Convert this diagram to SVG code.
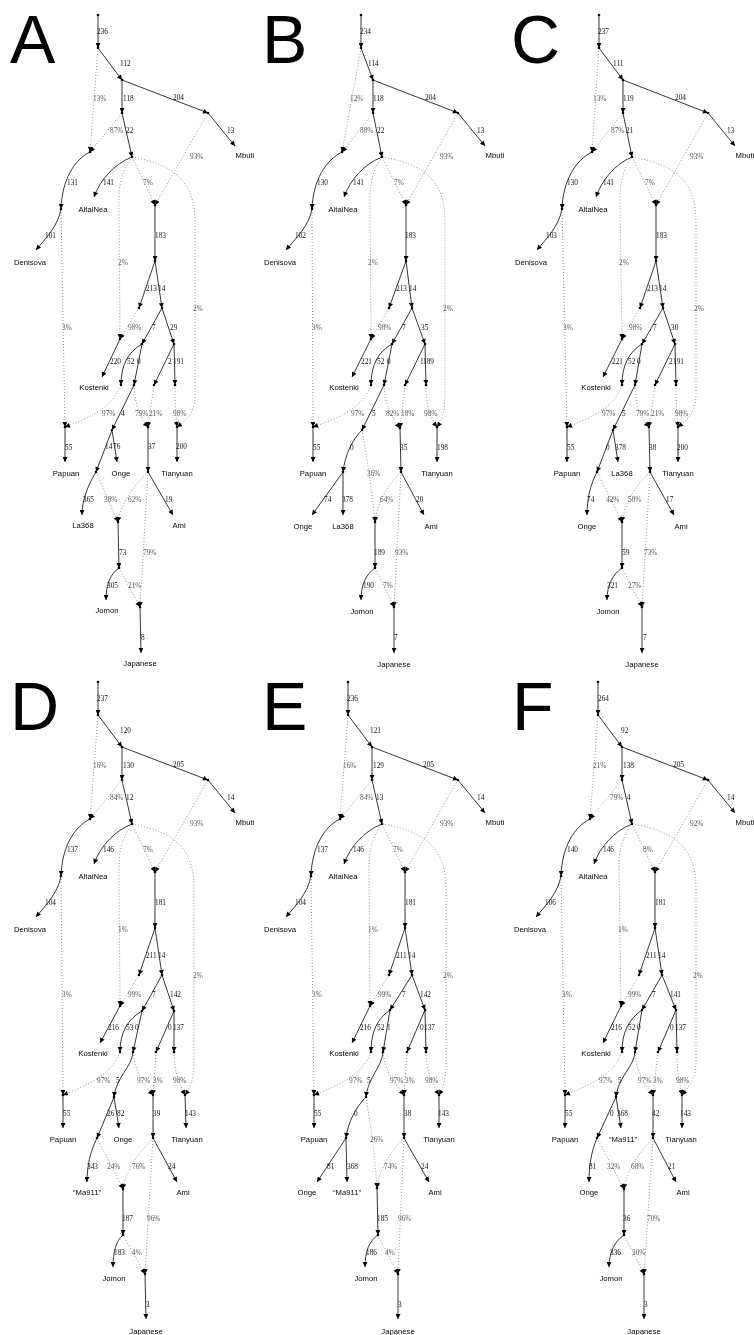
<svg xmlns="http://www.w3.org/2000/svg" width="754" height="1335" viewBox="0 0 754 1335">
<defs>
<marker id="ah" viewBox="0 0 10 10" refX="10" refY="5" markerWidth="6.5" markerHeight="5" orient="auto" markerUnits="userSpaceOnUse"><path d="M0,0L10,5L0,10z" fill="#000"/></marker>
</defs>
<style>
.s{fill:none;stroke:#000;stroke-width:0.8;marker-end:url(#ah)}
.d{fill:none;stroke:#777;stroke-width:0.8;stroke-dasharray:1 2;marker-end:url(#ah)}
.e{font-family:"Liberation Serif",serif;font-size:7.3px;fill:#111}
.p{font-family:"Liberation Serif",serif;font-size:7.3px;fill:#555}
.n{font-family:"Liberation Sans",Arial,sans-serif;font-size:7.7px;fill:#000;text-anchor:middle}
.pt{fill:#000}
.big{font-family:"Liberation Sans",Arial,sans-serif;font-size:68px;fill:#000}
</style>
<rect width="754" height="1335" fill="#fff"/>
<g id="figure" opacity="0.995">

<!-- PANEL A -->
<g id="panel-A">
<text class="big" x="10" y="63">A</text>
<g id="A-connectors">
<path class="s" d="M98,15L98,48"/>
<path class="s" d="M98,48L122,80"/>
<path class="s" d="M122,80L122,113"/>
<path class="s" d="M122,80L208,113"/>
<path class="s" d="M208,113L235,146"/>
<path class="s" d="M122,113L132,157"/>
<path class="s" d="M90,152C74,160 62,180 61,209"/>
<path class="s" d="M132,157C114,164 100,180 94,197"/>
<path class="s" d="M155,205L155,261"/>
<path class="s" d="M61,209C58,226 46,238 36,250"/>
<path class="s" d="M155,261L139,308"/>
<path class="s" d="M155,261L162,308"/>
<path class="s" d="M120,339L102,377"/>
<path class="s" d="M162,308L142,344"/>
<path class="s" d="M162,308L174,344"/>
<path class="s" d="M142,344C128,352 121,365 121,385"/>
<path class="s" d="M142,344L134,385"/>
<path class="s" d="M174,344L154,385"/>
<path class="s" d="M174,344L175,385"/>
<path class="s" d="M65,427L65,462"/>
<path class="s" d="M134,385L112,430"/>
<path class="s" d="M148,427L148,472"/>
<path class="s" d="M177,427L177,462"/>
<path class="s" d="M112,430L96,472"/>
<path class="s" d="M112,430L117,462"/>
<path class="s" d="M96,472C88,485 82,500 82,515"/>
<path class="s" d="M148,472L173,515"/>
<path class="s" d="M118,522L119,568"/>
<path class="s" d="M119,568C110,574 106,585 106,600"/>
<path class="s" d="M140,607L141,653"/>
<path class="d" d="M98,48L90,152"/>
<path class="d" d="M122,113L90,152"/>
<path class="d" d="M208,113L155,205"/>
<path class="d" d="M132,157L155,205"/>
<path class="d" d="M132,157C124,168 119,180 119,200L120,339"/>
<path class="d" d="M132,157C178,165 195,185 195,222L195,395C195,413 186,421 177,427"/>
<path class="d" d="M61,209L65,427"/>
<path class="d" d="M139,308L120,339"/>
<path class="d" d="M121,385C114,405 95,416 65,427"/>
<path class="d" d="M134,385C135,405 140,418 148,427"/>
<path class="d" d="M154,385L148,427"/>
<path class="d" d="M175,385C175,405 176,418 177,427"/>
<path class="d" d="M96,472L118,522"/>
<path class="d" d="M148,472C135,485 122,500 118,522"/>
<path class="d" d="M148,472L140,607"/>
<path class="d" d="M119,568L140,607"/>
<text class="e" x="97" y="33.5">236</text>
<text class="e" x="120" y="65.5">112</text>
<text class="p" x="93" y="100.5">13%</text>
<text class="e" x="123" y="100.5">118</text>
<text class="e" x="173" y="99.5">204</text>
<text class="e" x="227" y="132.5">13</text>
<text class="p" x="110" y="132.5">87%</text>
<text class="e" x="126" y="132.5">22</text>
<text class="p" x="190" y="158.5">93%</text>
<text class="e" x="67" y="184.5">131</text>
<text class="e" x="103" y="184.5">141</text>
<text class="p" x="143" y="184.5">7%</text>
<text class="p" x="118" y="264.5">2%</text>
<text class="p" x="193" y="310.5">2%</text>
<text class="e" x="45" y="237.5">101</text>
<text class="p" x="62" y="329.5">3%</text>
<text class="e" x="155" y="237.5">183</text>
<text class="e" x="146" y="290.5">213</text>
<text class="e" x="158" y="290.5">14</text>
<text class="p" x="128" y="329.5">98%</text>
<text class="e" x="152" y="329.5">7</text>
<text class="e" x="170" y="329.5">29</text>
<text class="e" x="110" y="363.5">220</text>
<text class="e" x="127" y="363.5">52</text>
<text class="e" x="137" y="363.5">0</text>
<text class="e" x="168" y="363.5">2</text>
<text class="e" x="173" y="363.5">191</text>
<text class="p" x="102" y="415.5">97%</text>
<text class="e" x="121" y="415.5">4</text>
<text class="p" x="135" y="415.5">79%</text>
<text class="p" x="149" y="415.5">21%</text>
<text class="p" x="173" y="415.5">98%</text>
<text class="e" x="65" y="449.5">55</text>
<text class="e" x="105" y="448.5">14</text>
<text class="e" x="113" y="448.5">76</text>
<text class="e" x="148" y="448.5">37</text>
<text class="e" x="176" y="448.5">200</text>
<text class="e" x="83" y="501.5">365</text>
<text class="p" x="104" y="501.5">38%</text>
<text class="p" x="128" y="501.5">62%</text>
<text class="e" x="165" y="501.5">19</text>
<text class="p" x="143" y="554.5">79%</text>
<text class="e" x="119" y="554.5">73</text>
<text class="e" x="107" y="587.5">305</text>
<text class="p" x="128" y="587.5">21%</text>
<text class="e" x="141" y="639.5">8</text>
</g>
<g id="A-root"><circle class="pt" cx="98" cy="15" r="1.3"/></g>
<g id="A-n1"><circle class="pt" cx="98" cy="48" r="1.3"/></g>
<g id="A-n2"><circle class="pt" cx="122" cy="80" r="1.3"/></g>
<g id="A-n3"><circle class="pt" cx="122" cy="113" r="1.3"/></g>
<g id="A-n4"><circle class="pt" cx="208" cy="113" r="1.3"/></g>
<g id="A-adm1"><circle class="pt" cx="90" cy="152" r="1.3"/></g>
<g id="A-n5"><circle class="pt" cx="132" cy="157" r="1.3"/></g>
<g id="A-adm2"><circle class="pt" cx="155" cy="205" r="1.3"/></g>
<g id="A-n7"><circle class="pt" cx="61" cy="209" r="1.3"/></g>
<g id="A-n8"><circle class="pt" cx="155" cy="261" r="1.3"/></g>
<g id="A-n9"><circle class="pt" cx="139" cy="308" r="1.3"/></g>
<g id="A-n10"><circle class="pt" cx="162" cy="308" r="1.3"/></g>
<g id="A-adm3"><circle class="pt" cx="120" cy="339" r="1.3"/></g>
<g id="A-n11"><circle class="pt" cx="142" cy="344" r="1.3"/></g>
<g id="A-n12"><circle class="pt" cx="174" cy="344" r="1.3"/></g>
<g id="A-n13"><circle class="pt" cx="121" cy="385" r="1.3"/></g>
<g id="A-n14"><circle class="pt" cx="134" cy="385" r="1.3"/></g>
<g id="A-n15"><circle class="pt" cx="154" cy="385" r="1.3"/></g>
<g id="A-n16"><circle class="pt" cx="175" cy="385" r="1.3"/></g>
<g id="A-adm4"><circle class="pt" cx="65" cy="427" r="1.3"/></g>
<g id="A-n17"><circle class="pt" cx="112" cy="430" r="1.3"/></g>
<g id="A-adm5"><circle class="pt" cx="148" cy="427" r="1.3"/></g>
<g id="A-adm6"><circle class="pt" cx="177" cy="427" r="1.3"/></g>
<g id="A-n20"><circle class="pt" cx="96" cy="472" r="1.3"/></g>
<g id="A-n21"><circle class="pt" cx="148" cy="472" r="1.3"/></g>
<g id="A-adm7"><circle class="pt" cx="118" cy="522" r="1.3"/></g>
<g id="A-n24"><circle class="pt" cx="119" cy="568" r="1.3"/></g>
<g id="A-adm8"><circle class="pt" cx="140" cy="607" r="1.3"/></g>
<g id="A-Mbuti"><text class="n" x="245" y="158">Mbuti</text></g>
<g id="A-AltaiNea"><text class="n" x="93" y="212">AltaiNea</text></g>
<g id="A-Denisova"><text class="n" x="30" y="265">Denisova</text></g>
<g id="A-Kostenki"><text class="n" x="94" y="390">Kostenki</text></g>
<g id="A-Papuan"><text class="n" x="66" y="476">Papuan</text></g>
<g id="A-Onge"><text class="n" x="121" y="476">Onge</text></g>
<g id="A-Tianyuan"><text class="n" x="177" y="476">Tianyuan</text></g>
<g id="A-La368"><text class="n" x="83" y="528">La368</text></g>
<g id="A-Ami"><text class="n" x="179" y="528">Ami</text></g>
<g id="A-Jomon"><text class="n" x="107" y="613">Jomon</text></g>
<g id="A-Japanese"><text class="n" x="140" y="666">Japanese</text></g>
</g>

<!-- PANEL B -->
<g id="panel-B" transform="translate(250,0)">
<text class="big" x="12" y="63">B</text>
<g id="B-connectors">
<path class="s" d="M111,15L111,48"/>
<path class="s" d="M111,48L123,80"/>
<path class="s" d="M123,80L123,113"/>
<path class="s" d="M123,80L208,113"/>
<path class="s" d="M208,113L235,146"/>
<path class="s" d="M123,113L132,157"/>
<path class="s" d="M92,152C76,160 63,180 62,209"/>
<path class="s" d="M132,157C114,164 100,180 94,197"/>
<path class="s" d="M156,205L156,261"/>
<path class="s" d="M62,209C59,226 46,238 36,250"/>
<path class="s" d="M156,261L139,308"/>
<path class="s" d="M156,261L162,308"/>
<path class="s" d="M121,339L102,377"/>
<path class="s" d="M162,308L142,344"/>
<path class="s" d="M162,308L175,344"/>
<path class="s" d="M142,344C128,352 121,365 121,385"/>
<path class="s" d="M142,344L134,385"/>
<path class="s" d="M175,344L155,385"/>
<path class="s" d="M175,344L176,385"/>
<path class="s" d="M63,427L63,462"/>
<path class="s" d="M134,385L112,430"/>
<path class="s" d="M150,428L151,472"/>
<path class="s" d="M187,427L187,462"/>
<path class="s" d="M112,430C102,440 95,455 93,472"/>
<path class="s" d="M93,472L62,515"/>
<path class="s" d="M93,472L93,515"/>
<path class="s" d="M151,472L174,515"/>
<path class="s" d="M125,522L125,568"/>
<path class="s" d="M125,568C116,574 111,585 111,600"/>
<path class="s" d="M144,607L144,653"/>
<path class="d" d="M111,48L92,152"/>
<path class="d" d="M123,113L92,152"/>
<path class="d" d="M208,113L156,205"/>
<path class="d" d="M132,157L156,205"/>
<path class="d" d="M132,157C124,168 120,180 120,200L121,339"/>
<path class="d" d="M132,157C180,165 195,185 195,222L195,395C195,413 192,420 187,427"/>
<path class="d" d="M62,209L63,427"/>
<path class="d" d="M139,308L121,339"/>
<path class="d" d="M121,385C114,405 95,416 63,427"/>
<path class="d" d="M134,385C135,405 142,418 150,428"/>
<path class="d" d="M155,385L150,428"/>
<path class="d" d="M176,385C176,405 180,418 187,427"/>
<path class="d" d="M112,430C117,460 122,490 125,522"/>
<path class="d" d="M151,472C138,485 128,500 125,522"/>
<path class="d" d="M151,472L144,607"/>
<path class="d" d="M125,568L144,607"/>
<text class="e" x="110" y="33.5">234</text>
<text class="e" x="118" y="65.5">114</text>
<text class="p" x="100" y="100.5">12%</text>
<text class="e" x="123" y="100.5">118</text>
<text class="e" x="175" y="99.5">204</text>
<text class="e" x="227" y="132.5">13</text>
<text class="p" x="110" y="132.5">88%</text>
<text class="e" x="127" y="132.5">22</text>
<text class="p" x="190" y="158.5">93%</text>
<text class="e" x="67" y="184.5">130</text>
<text class="e" x="103" y="184.5">141</text>
<text class="p" x="144" y="184.5">7%</text>
<text class="e" x="45" y="237.5">102</text>
<text class="e" x="155" y="237.5">183</text>
<text class="p" x="118" y="264.5">2%</text>
<text class="e" x="146" y="290.5">213</text>
<text class="e" x="159" y="290.5">14</text>
<text class="p" x="193" y="310.5">2%</text>
<text class="p" x="62" y="329.5">3%</text>
<text class="p" x="128" y="329.5">98%</text>
<text class="e" x="152" y="329.5">7</text>
<text class="e" x="171" y="329.5">35</text>
<text class="e" x="111" y="363.5">221</text>
<text class="e" x="127" y="363.5">52</text>
<text class="e" x="137" y="363.5">0</text>
<text class="e" x="170" y="363.5">1</text>
<text class="e" x="173" y="363.5">189</text>
<text class="p" x="101" y="415.5">97%</text>
<text class="e" x="122" y="415.5">5</text>
<text class="p" x="136" y="415.5">82%</text>
<text class="p" x="151" y="415.5">18%</text>
<text class="p" x="174" y="415.5">98%</text>
<text class="e" x="63" y="449.5">55</text>
<text class="e" x="100" y="449.5">0</text>
<text class="e" x="150" y="449.5">35</text>
<text class="e" x="187" y="449.5">198</text>
<text class="p" x="117" y="475.5">36%</text>
<text class="e" x="74" y="501.5">74</text>
<text class="e" x="92" y="501.5">378</text>
<text class="p" x="130" y="501.5">64%</text>
<text class="e" x="166" y="501.5">20</text>
<text class="e" x="124" y="554.5">189</text>
<text class="p" x="145" y="554.5">93%</text>
<text class="e" x="113" y="587.5">190</text>
<text class="p" x="133" y="587.5">7%</text>
<text class="e" x="144" y="639.5">7</text>
</g>
<g id="B-root"><circle class="pt" cx="111" cy="15" r="1.3"/></g>
<g id="B-n1"><circle class="pt" cx="111" cy="48" r="1.3"/></g>
<g id="B-n2"><circle class="pt" cx="123" cy="80" r="1.3"/></g>
<g id="B-n3"><circle class="pt" cx="123" cy="113" r="1.3"/></g>
<g id="B-n4"><circle class="pt" cx="208" cy="113" r="1.3"/></g>
<g id="B-adm1"><circle class="pt" cx="92" cy="152" r="1.3"/></g>
<g id="B-n5"><circle class="pt" cx="132" cy="157" r="1.3"/></g>
<g id="B-adm2"><circle class="pt" cx="156" cy="205" r="1.3"/></g>
<g id="B-n7"><circle class="pt" cx="62" cy="209" r="1.3"/></g>
<g id="B-n8"><circle class="pt" cx="156" cy="261" r="1.3"/></g>
<g id="B-n9"><circle class="pt" cx="139" cy="308" r="1.3"/></g>
<g id="B-n10"><circle class="pt" cx="162" cy="308" r="1.3"/></g>
<g id="B-adm3"><circle class="pt" cx="121" cy="339" r="1.3"/></g>
<g id="B-n11"><circle class="pt" cx="142" cy="344" r="1.3"/></g>
<g id="B-n12"><circle class="pt" cx="175" cy="344" r="1.3"/></g>
<g id="B-n13"><circle class="pt" cx="121" cy="385" r="1.3"/></g>
<g id="B-n14"><circle class="pt" cx="134" cy="385" r="1.3"/></g>
<g id="B-n15"><circle class="pt" cx="155" cy="385" r="1.3"/></g>
<g id="B-n16"><circle class="pt" cx="176" cy="385" r="1.3"/></g>
<g id="B-adm4"><circle class="pt" cx="63" cy="427" r="1.3"/></g>
<g id="B-n17"><circle class="pt" cx="112" cy="430" r="1.3"/></g>
<g id="B-adm5"><circle class="pt" cx="150" cy="428" r="1.3"/></g>
<g id="B-adm6"><circle class="pt" cx="187" cy="427" r="1.3"/></g>
<g id="B-n20"><circle class="pt" cx="93" cy="472" r="1.3"/></g>
<g id="B-n21"><circle class="pt" cx="151" cy="472" r="1.3"/></g>
<g id="B-adm7"><circle class="pt" cx="125" cy="522" r="1.3"/></g>
<g id="B-n24"><circle class="pt" cx="125" cy="568" r="1.3"/></g>
<g id="B-adm8"><circle class="pt" cx="144" cy="607" r="1.3"/></g>
<g id="B-Mbuti"><text class="n" x="245" y="158">Mbuti</text></g>
<g id="B-AltaiNea"><text class="n" x="93" y="212">AltaiNea</text></g>
<g id="B-Denisova"><text class="n" x="30" y="265">Denisova</text></g>
<g id="B-Kostenki"><text class="n" x="94" y="390">Kostenki</text></g>
<g id="B-Papuan"><text class="n" x="63" y="476">Papuan</text></g>
<g id="B-Tianyuan"><text class="n" x="187" y="476">Tianyuan</text></g>
<g id="B-Onge"><text class="n" x="53" y="529">Onge</text></g>
<g id="B-La368"><text class="n" x="93" y="529">La368</text></g>
<g id="B-Ami"><text class="n" x="181" y="529">Ami</text></g>
<g id="B-Jomon"><text class="n" x="112" y="614">Jomon</text></g>
<g id="B-Japanese"><text class="n" x="144" y="667">Japanese</text></g>
</g>

<!-- PANEL C -->
<g id="panel-C" transform="translate(500,0)">
<text class="big" x="11" y="63">C</text>
<g id="C-connectors">
<path class="s" d="M99,15L99,48"/>
<path class="s" d="M99,48L123,80"/>
<path class="s" d="M123,80L123,113"/>
<path class="s" d="M123,80L208,113"/>
<path class="s" d="M208,113L235,146"/>
<path class="s" d="M123,113L132,157"/>
<path class="s" d="M92,152C76,160 63,180 62,209"/>
<path class="s" d="M132,157C115,164 102,180 96,197"/>
<path class="s" d="M156,205L156,261"/>
<path class="s" d="M62,209C59,226 47,238 37,250"/>
<path class="s" d="M156,261L140,308"/>
<path class="s" d="M156,261L163,308"/>
<path class="s" d="M122,339L103,377"/>
<path class="s" d="M163,308L142,344"/>
<path class="s" d="M163,308L175,344"/>
<path class="s" d="M142,344C129,352 122,365 122,385"/>
<path class="s" d="M142,344L135,385"/>
<path class="s" d="M175,344L155,385"/>
<path class="s" d="M175,344L176,385"/>
<path class="s" d="M67,427L67,462"/>
<path class="s" d="M135,385L113,430"/>
<path class="s" d="M149,427L150,472"/>
<path class="s" d="M178,427L178,462"/>
<path class="s" d="M113,430L97,472"/>
<path class="s" d="M113,430L118,462"/>
<path class="s" d="M97,472C90,485 87,500 87,515"/>
<path class="s" d="M150,472L174,515"/>
<path class="s" d="M122,522L122,568"/>
<path class="s" d="M122,568C113,574 107,585 107,600"/>
<path class="s" d="M142,607L142,653"/>
<path class="d" d="M99,48L92,152"/>
<path class="d" d="M123,113L92,152"/>
<path class="d" d="M208,113L156,205"/>
<path class="d" d="M132,157L156,205"/>
<path class="d" d="M132,157C124,168 120,180 120,200L122,339"/>
<path class="d" d="M132,157C180,165 196,185 196,222L196,395C196,413 186,421 178,427"/>
<path class="d" d="M62,209L67,427"/>
<path class="d" d="M140,308L122,339"/>
<path class="d" d="M122,385C115,405 97,416 67,427"/>
<path class="d" d="M135,385C135,405 141,418 149,427"/>
<path class="d" d="M155,385L149,427"/>
<path class="d" d="M176,385C176,405 177,418 178,427"/>
<path class="d" d="M97,472L122,522"/>
<path class="d" d="M150,472C137,485 125,500 122,522"/>
<path class="d" d="M150,472L142,607"/>
<path class="d" d="M122,568L142,607"/>
<text class="e" x="98" y="33.5">237</text>
<text class="e" x="113" y="65.5">111</text>
<text class="p" x="93" y="100.5">13%</text>
<text class="e" x="123" y="100.5">119</text>
<text class="e" x="175" y="99.5">204</text>
<text class="e" x="227" y="132.5">13</text>
<text class="p" x="111" y="132.5">87%</text>
<text class="e" x="126" y="132.5">21</text>
<text class="p" x="190" y="158.5">93%</text>
<text class="e" x="67" y="184.5">130</text>
<text class="e" x="103" y="184.5">141</text>
<text class="p" x="145" y="184.5">7%</text>
<text class="e" x="46" y="237.5">103</text>
<text class="e" x="156" y="237.5">183</text>
<text class="p" x="119" y="264.5">2%</text>
<text class="e" x="147" y="290.5">213</text>
<text class="e" x="159" y="290.5">14</text>
<text class="p" x="194" y="310.5">2%</text>
<text class="p" x="63" y="329.5">3%</text>
<text class="p" x="129" y="329.5">98%</text>
<text class="e" x="153" y="329.5">7</text>
<text class="e" x="171" y="329.5">30</text>
<text class="e" x="112" y="363.5">221</text>
<text class="e" x="128" y="363.5">52</text>
<text class="e" x="137" y="363.5">0</text>
<text class="e" x="169" y="363.5">2</text>
<text class="e" x="173" y="363.5">191</text>
<text class="p" x="102" y="415.5">97%</text>
<text class="e" x="122" y="415.5">5</text>
<text class="p" x="136" y="415.5">79%</text>
<text class="p" x="151" y="415.5">21%</text>
<text class="p" x="175" y="415.5">98%</text>
<text class="e" x="67" y="449.5">55</text>
<text class="e" x="106" y="449.5">0</text>
<text class="e" x="115" y="449.5">378</text>
<text class="e" x="149" y="449.5">38</text>
<text class="e" x="177" y="449.5">200</text>
<text class="e" x="87" y="501.5">74</text>
<text class="p" x="106" y="501.5">42%</text>
<text class="p" x="128" y="501.5">58%</text>
<text class="e" x="166" y="501.5">17</text>
<text class="e" x="122" y="554.5">59</text>
<text class="p" x="144" y="554.5">73%</text>
<text class="e" x="107" y="587.5">321</text>
<text class="p" x="128" y="587.5">27%</text>
<text class="e" x="143" y="639.5">7</text>
</g>
<g id="C-root"><circle class="pt" cx="99" cy="15" r="1.3"/></g>
<g id="C-n1"><circle class="pt" cx="99" cy="48" r="1.3"/></g>
<g id="C-n2"><circle class="pt" cx="123" cy="80" r="1.3"/></g>
<g id="C-n3"><circle class="pt" cx="123" cy="113" r="1.3"/></g>
<g id="C-n4"><circle class="pt" cx="208" cy="113" r="1.3"/></g>
<g id="C-adm1"><circle class="pt" cx="92" cy="152" r="1.3"/></g>
<g id="C-n5"><circle class="pt" cx="132" cy="157" r="1.3"/></g>
<g id="C-adm2"><circle class="pt" cx="156" cy="205" r="1.3"/></g>
<g id="C-n7"><circle class="pt" cx="62" cy="209" r="1.3"/></g>
<g id="C-n8"><circle class="pt" cx="156" cy="261" r="1.3"/></g>
<g id="C-n9"><circle class="pt" cx="140" cy="308" r="1.3"/></g>
<g id="C-n10"><circle class="pt" cx="163" cy="308" r="1.3"/></g>
<g id="C-adm3"><circle class="pt" cx="122" cy="339" r="1.3"/></g>
<g id="C-n11"><circle class="pt" cx="142" cy="344" r="1.3"/></g>
<g id="C-n12"><circle class="pt" cx="175" cy="344" r="1.3"/></g>
<g id="C-n13"><circle class="pt" cx="122" cy="385" r="1.3"/></g>
<g id="C-n14"><circle class="pt" cx="135" cy="385" r="1.3"/></g>
<g id="C-n15"><circle class="pt" cx="155" cy="385" r="1.3"/></g>
<g id="C-n16"><circle class="pt" cx="176" cy="385" r="1.3"/></g>
<g id="C-adm4"><circle class="pt" cx="67" cy="427" r="1.3"/></g>
<g id="C-n17"><circle class="pt" cx="113" cy="430" r="1.3"/></g>
<g id="C-adm5"><circle class="pt" cx="149" cy="427" r="1.3"/></g>
<g id="C-adm6"><circle class="pt" cx="178" cy="427" r="1.3"/></g>
<g id="C-n20"><circle class="pt" cx="97" cy="472" r="1.3"/></g>
<g id="C-n21"><circle class="pt" cx="150" cy="472" r="1.3"/></g>
<g id="C-adm7"><circle class="pt" cx="122" cy="522" r="1.3"/></g>
<g id="C-n24"><circle class="pt" cx="122" cy="568" r="1.3"/></g>
<g id="C-adm8"><circle class="pt" cx="142" cy="607" r="1.3"/></g>
<g id="C-Mbuti"><text class="n" x="245" y="158">Mbuti</text></g>
<g id="C-AltaiNea"><text class="n" x="93" y="212">AltaiNea</text></g>
<g id="C-Denisova"><text class="n" x="31" y="265">Denisova</text></g>
<g id="C-Kostenki"><text class="n" x="96" y="390">Kostenki</text></g>
<g id="C-Papuan"><text class="n" x="67" y="476">Papuan</text></g>
<g id="C-La368"><text class="n" x="122" y="476">La368</text></g>
<g id="C-Tianyuan"><text class="n" x="178" y="476">Tianyuan</text></g>
<g id="C-Onge"><text class="n" x="87" y="529">Onge</text></g>
<g id="C-Ami"><text class="n" x="181" y="529">Ami</text></g>
<g id="C-Jomon"><text class="n" x="108" y="614">Jomon</text></g>
<g id="C-Japanese"><text class="n" x="142" y="667">Japanese</text></g>
</g>

<!-- PANEL D -->
<g id="panel-D" transform="translate(0,667)">
<text class="big" x="10" y="63">D</text>
<g id="D-connectors">
<path class="s" d="M98,15L98,48"/>
<path class="s" d="M98,48L122,80"/>
<path class="s" d="M122,80L122,113"/>
<path class="s" d="M122,80L208,113"/>
<path class="s" d="M208,113L235,146"/>
<path class="s" d="M122,113L132,157"/>
<path class="s" d="M90,152C74,160 62,180 61,209"/>
<path class="s" d="M132,157C114,164 100,180 94,197"/>
<path class="s" d="M155,205L155,261"/>
<path class="s" d="M61,209C58,226 46,238 36,250"/>
<path class="s" d="M155,261L139,308"/>
<path class="s" d="M155,261L162,308"/>
<path class="s" d="M120,339L100,376"/>
<path class="s" d="M162,308L142,344"/>
<path class="s" d="M162,308L174,344"/>
<path class="s" d="M142,344C128,352 120,365 120,385"/>
<path class="s" d="M142,344L133,385"/>
<path class="s" d="M174,344L156,385"/>
<path class="s" d="M174,344L174,385"/>
<path class="s" d="M63,428L63,461"/>
<path class="s" d="M133,385C132,400 116,410 114,430"/>
<path class="s" d="M114,430L97,471"/>
<path class="s" d="M114,430L119,461"/>
<path class="s" d="M153,428L153,471"/>
<path class="s" d="M185,428L186,461"/>
<path class="s" d="M97,471C90,485 87,500 87,515"/>
<path class="s" d="M153,471L177,515"/>
<path class="s" d="M123,522L123,568"/>
<path class="s" d="M123,568C116,574 113,585 113,600"/>
<path class="s" d="M145,607L146,652"/>
<path class="d" d="M98,48L90,152"/>
<path class="d" d="M122,113L90,152"/>
<path class="d" d="M208,113L155,205"/>
<path class="d" d="M132,157L155,205"/>
<path class="d" d="M132,157C124,168 119,180 119,200L120,339"/>
<path class="d" d="M132,157C178,165 194,185 194,222L194,395C194,413 190,421 185,428"/>
<path class="d" d="M61,209L63,428"/>
<path class="d" d="M139,308L120,339"/>
<path class="d" d="M120,385C113,405 93,416 63,428"/>
<path class="d" d="M133,385C135,405 144,418 153,428"/>
<path class="d" d="M156,385L153,428"/>
<path class="d" d="M174,385C174,405 180,418 185,428"/>
<path class="d" d="M97,471L123,522"/>
<path class="d" d="M153,471C140,485 127,500 123,522"/>
<path class="d" d="M153,471L145,607"/>
<path class="d" d="M123,568L145,607"/>
<text class="e" x="97" y="33.5">237</text>
<text class="e" x="120" y="65.5">120</text>
<text class="p" x="93" y="100.5">16%</text>
<text class="e" x="123" y="100.5">130</text>
<text class="e" x="173" y="99.5">205</text>
<text class="e" x="227" y="132.5">14</text>
<text class="p" x="110" y="132.5">84%</text>
<text class="e" x="126" y="132.5">12</text>
<text class="p" x="190" y="158.5">93%</text>
<text class="e" x="67" y="184.5">137</text>
<text class="e" x="103" y="184.5">146</text>
<text class="p" x="143" y="184.5">7%</text>
<text class="e" x="45" y="237.5">104</text>
<text class="e" x="155" y="237.5">181</text>
<text class="p" x="118" y="264.5">1%</text>
<text class="e" x="146" y="290.5">211</text>
<text class="e" x="158" y="290.5">14</text>
<text class="p" x="193" y="310.5">2%</text>
<text class="p" x="62" y="329.5">3%</text>
<text class="p" x="128" y="329.5">99%</text>
<text class="e" x="152" y="329.5">7</text>
<text class="e" x="170" y="329.5">142</text>
<text class="e" x="108" y="362.5">216</text>
<text class="e" x="126" y="362.5">53</text>
<text class="e" x="135" y="362.5">0</text>
<text class="e" x="168" y="362.5">0</text>
<text class="e" x="173" y="362.5">137</text>
<text class="p" x="97" y="415.5">97%</text>
<text class="e" x="116" y="415.5">5</text>
<text class="p" x="137" y="415.5">97%</text>
<text class="p" x="153" y="415.5">3%</text>
<text class="p" x="173" y="415.5">98%</text>
<text class="e" x="63" y="448.5">55</text>
<text class="e" x="107" y="448.5">26</text>
<text class="e" x="117" y="448.5">82</text>
<text class="e" x="153" y="448.5">39</text>
<text class="e" x="185" y="448.5">143</text>
<text class="e" x="87" y="501.5">343</text>
<text class="p" x="107" y="501.5">24%</text>
<text class="p" x="132" y="501.5">76%</text>
<text class="e" x="168" y="501.5">24</text>
<text class="e" x="122" y="553.5">187</text>
<text class="p" x="147" y="553.5">96%</text>
<text class="e" x="114" y="587.5">183</text>
<text class="p" x="132" y="587.5">4%</text>
<text class="e" x="146" y="639.5">3</text>
</g>
<g id="D-root"><circle class="pt" cx="98" cy="15" r="1.3"/></g>
<g id="D-n1"><circle class="pt" cx="98" cy="48" r="1.3"/></g>
<g id="D-n2"><circle class="pt" cx="122" cy="80" r="1.3"/></g>
<g id="D-n3"><circle class="pt" cx="122" cy="113" r="1.3"/></g>
<g id="D-n4"><circle class="pt" cx="208" cy="113" r="1.3"/></g>
<g id="D-adm1"><circle class="pt" cx="90" cy="152" r="1.3"/></g>
<g id="D-n5"><circle class="pt" cx="132" cy="157" r="1.3"/></g>
<g id="D-adm2"><circle class="pt" cx="155" cy="205" r="1.3"/></g>
<g id="D-n7"><circle class="pt" cx="61" cy="209" r="1.3"/></g>
<g id="D-n8"><circle class="pt" cx="155" cy="261" r="1.3"/></g>
<g id="D-n9"><circle class="pt" cx="139" cy="308" r="1.3"/></g>
<g id="D-n10"><circle class="pt" cx="162" cy="308" r="1.3"/></g>
<g id="D-adm3"><circle class="pt" cx="120" cy="339" r="1.3"/></g>
<g id="D-n11"><circle class="pt" cx="142" cy="344" r="1.3"/></g>
<g id="D-n12"><circle class="pt" cx="174" cy="344" r="1.3"/></g>
<g id="D-n13"><circle class="pt" cx="120" cy="385" r="1.3"/></g>
<g id="D-n14"><circle class="pt" cx="133" cy="385" r="1.3"/></g>
<g id="D-n15"><circle class="pt" cx="156" cy="385" r="1.3"/></g>
<g id="D-n16"><circle class="pt" cx="174" cy="385" r="1.3"/></g>
<g id="D-adm4"><circle class="pt" cx="63" cy="428" r="1.3"/></g>
<g id="D-n17"><circle class="pt" cx="114" cy="430" r="1.3"/></g>
<g id="D-adm5"><circle class="pt" cx="153" cy="428" r="1.3"/></g>
<g id="D-adm6"><circle class="pt" cx="185" cy="428" r="1.3"/></g>
<g id="D-n20"><circle class="pt" cx="97" cy="471" r="1.3"/></g>
<g id="D-n21"><circle class="pt" cx="153" cy="471" r="1.3"/></g>
<g id="D-adm7"><circle class="pt" cx="123" cy="522" r="1.3"/></g>
<g id="D-n24"><circle class="pt" cx="123" cy="568" r="1.3"/></g>
<g id="D-adm8"><circle class="pt" cx="145" cy="607" r="1.3"/></g>
<g id="D-Mbuti"><text class="n" x="245" y="158">Mbuti</text></g>
<g id="D-AltaiNea"><text class="n" x="93" y="212">AltaiNea</text></g>
<g id="D-Denisova"><text class="n" x="30" y="265">Denisova</text></g>
<g id="D-Kostenki"><text class="n" x="93" y="389">Kostenki</text></g>
<g id="D-Papuan"><text class="n" x="63" y="475">Papuan</text></g>
<g id="D-Onge"><text class="n" x="123" y="475">Onge</text></g>
<g id="D-Tianyuan"><text class="n" x="187" y="475">Tianyuan</text></g>
<g id="D-Ma911"><text class="n" x="87" y="528">“Ma911”</text></g>
<g id="D-Ami"><text class="n" x="183" y="528">Ami</text></g>
<g id="D-Jomon"><text class="n" x="114" y="614">Jomon</text></g>
<g id="D-Japanese"><text class="n" x="146" y="667">Japanese</text></g>
</g>

<!-- PANEL E -->
<g id="panel-E" transform="translate(250,667)">
<text class="big" x="12" y="63">E</text>
<g id="E-connectors">
<path class="s" d="M98,15L98,48"/>
<path class="s" d="M98,48L122,80"/>
<path class="s" d="M122,80L122,113"/>
<path class="s" d="M122,80L208,113"/>
<path class="s" d="M208,113L235,146"/>
<path class="s" d="M122,113L132,157"/>
<path class="s" d="M90,152C74,160 62,180 61,209"/>
<path class="s" d="M132,157C114,164 100,180 94,197"/>
<path class="s" d="M155,205L155,261"/>
<path class="s" d="M61,209C58,226 46,238 36,250"/>
<path class="s" d="M155,261L139,308"/>
<path class="s" d="M155,261L162,308"/>
<path class="s" d="M120,339L102,376"/>
<path class="s" d="M162,308L140,343"/>
<path class="s" d="M162,308L175,343"/>
<path class="s" d="M140,343C127,352 121,365 121,385"/>
<path class="s" d="M140,343L133,385"/>
<path class="s" d="M175,343L157,385"/>
<path class="s" d="M175,343L176,385"/>
<path class="s" d="M64,428L64,461"/>
<path class="s" d="M133,385C132,400 118,410 116,430"/>
<path class="s" d="M116,430C106,440 98,455 96,471"/>
<path class="s" d="M154,428L154,471"/>
<path class="s" d="M189,428L189,461"/>
<path class="s" d="M96,471L67,515"/>
<path class="s" d="M96,471L97,515"/>
<path class="s" d="M154,471L179,515"/>
<path class="s" d="M127,521L128,568"/>
<path class="s" d="M128,568C119,574 115,585 115,600"/>
<path class="s" d="M148,607L148,652"/>
<path class="d" d="M98,48L90,152"/>
<path class="d" d="M122,113L90,152"/>
<path class="d" d="M208,113L155,205"/>
<path class="d" d="M132,157L155,205"/>
<path class="d" d="M132,157C124,168 119,180 119,200L120,339"/>
<path class="d" d="M132,157C180,165 196,185 196,222L196,395C196,413 193,421 189,428"/>
<path class="d" d="M61,209L64,428"/>
<path class="d" d="M139,308L120,339"/>
<path class="d" d="M121,385C114,405 95,416 64,428"/>
<path class="d" d="M133,385C135,405 146,418 154,428"/>
<path class="d" d="M157,385L154,428"/>
<path class="d" d="M176,385C176,405 183,418 189,428"/>
<path class="d" d="M116,430C121,460 125,490 127,521"/>
<path class="d" d="M154,471C141,485 130,500 127,521"/>
<path class="d" d="M154,471L148,607"/>
<path class="d" d="M128,568L148,607"/>
<text class="e" x="97" y="33.5">236</text>
<text class="e" x="120" y="65.5">121</text>
<text class="p" x="93" y="100.5">16%</text>
<text class="e" x="123" y="100.5">129</text>
<text class="e" x="173" y="99.5">205</text>
<text class="e" x="227" y="132.5">14</text>
<text class="p" x="110" y="132.5">84%</text>
<text class="e" x="126" y="132.5">13</text>
<text class="p" x="190" y="158.5">93%</text>
<text class="e" x="67" y="184.5">137</text>
<text class="e" x="103" y="184.5">146</text>
<text class="p" x="143" y="184.5">7%</text>
<text class="e" x="45" y="237.5">104</text>
<text class="e" x="155" y="237.5">181</text>
<text class="p" x="118" y="264.5">1%</text>
<text class="e" x="146" y="290.5">211</text>
<text class="e" x="158" y="290.5">14</text>
<text class="p" x="193" y="310.5">2%</text>
<text class="p" x="62" y="329.5">3%</text>
<text class="p" x="128" y="329.5">99%</text>
<text class="e" x="152" y="329.5">7</text>
<text class="e" x="170" y="329.5">142</text>
<text class="e" x="110" y="362.5">216</text>
<text class="e" x="127" y="362.5">52</text>
<text class="e" x="137" y="362.5">1</text>
<text class="e" x="170" y="362.5">0</text>
<text class="e" x="174" y="362.5">137</text>
<text class="p" x="99" y="415.5">97%</text>
<text class="e" x="117" y="415.5">5</text>
<text class="p" x="140" y="415.5">97%</text>
<text class="p" x="155" y="415.5">3%</text>
<text class="p" x="175" y="415.5">98%</text>
<text class="e" x="64" y="448.5">55</text>
<text class="e" x="104" y="448.5">0</text>
<text class="e" x="154" y="448.5">38</text>
<text class="e" x="188" y="448.5">143</text>
<text class="p" x="120" y="474.5">26%</text>
<text class="e" x="77" y="501.5">81</text>
<text class="e" x="97" y="501.5">368</text>
<text class="p" x="134" y="501.5">74%</text>
<text class="e" x="171" y="501.5">24</text>
<text class="e" x="127" y="553.5">185</text>
<text class="p" x="148" y="553.5">96%</text>
<text class="e" x="116" y="587.5">186</text>
<text class="p" x="135" y="587.5">4%</text>
<text class="e" x="148" y="639.5">3</text>
</g>
<g id="E-root"><circle class="pt" cx="98" cy="15" r="1.3"/></g>
<g id="E-n1"><circle class="pt" cx="98" cy="48" r="1.3"/></g>
<g id="E-n2"><circle class="pt" cx="122" cy="80" r="1.3"/></g>
<g id="E-n3"><circle class="pt" cx="122" cy="113" r="1.3"/></g>
<g id="E-n4"><circle class="pt" cx="208" cy="113" r="1.3"/></g>
<g id="E-adm1"><circle class="pt" cx="90" cy="152" r="1.3"/></g>
<g id="E-n5"><circle class="pt" cx="132" cy="157" r="1.3"/></g>
<g id="E-adm2"><circle class="pt" cx="155" cy="205" r="1.3"/></g>
<g id="E-n7"><circle class="pt" cx="61" cy="209" r="1.3"/></g>
<g id="E-n8"><circle class="pt" cx="155" cy="261" r="1.3"/></g>
<g id="E-n9"><circle class="pt" cx="139" cy="308" r="1.3"/></g>
<g id="E-n10"><circle class="pt" cx="162" cy="308" r="1.3"/></g>
<g id="E-adm3"><circle class="pt" cx="120" cy="339" r="1.3"/></g>
<g id="E-n11"><circle class="pt" cx="140" cy="343" r="1.3"/></g>
<g id="E-n12"><circle class="pt" cx="175" cy="343" r="1.3"/></g>
<g id="E-n13"><circle class="pt" cx="121" cy="385" r="1.3"/></g>
<g id="E-n14"><circle class="pt" cx="133" cy="385" r="1.3"/></g>
<g id="E-n15"><circle class="pt" cx="157" cy="385" r="1.3"/></g>
<g id="E-n16"><circle class="pt" cx="176" cy="385" r="1.3"/></g>
<g id="E-adm4"><circle class="pt" cx="64" cy="428" r="1.3"/></g>
<g id="E-n17"><circle class="pt" cx="116" cy="430" r="1.3"/></g>
<g id="E-adm5"><circle class="pt" cx="154" cy="428" r="1.3"/></g>
<g id="E-adm6"><circle class="pt" cx="189" cy="428" r="1.3"/></g>
<g id="E-n20"><circle class="pt" cx="96" cy="471" r="1.3"/></g>
<g id="E-n21"><circle class="pt" cx="154" cy="471" r="1.3"/></g>
<g id="E-adm7"><circle class="pt" cx="127" cy="521" r="1.3"/></g>
<g id="E-n24"><circle class="pt" cx="128" cy="568" r="1.3"/></g>
<g id="E-adm8"><circle class="pt" cx="148" cy="607" r="1.3"/></g>
<g id="E-Mbuti"><text class="n" x="245" y="158">Mbuti</text></g>
<g id="E-AltaiNea"><text class="n" x="93" y="212">AltaiNea</text></g>
<g id="E-Denisova"><text class="n" x="30" y="265">Denisova</text></g>
<g id="E-Kostenki"><text class="n" x="94" y="389">Kostenki</text></g>
<g id="E-Papuan"><text class="n" x="64" y="475">Papuan</text></g>
<g id="E-Tianyuan"><text class="n" x="189" y="475">Tianyuan</text></g>
<g id="E-Onge"><text class="n" x="57" y="528">Onge</text></g>
<g id="E-Ma911"><text class="n" x="97" y="528">“Ma911”</text></g>
<g id="E-Ami"><text class="n" x="185" y="528">Ami</text></g>
<g id="E-Jomon"><text class="n" x="116" y="614">Jomon</text></g>
<g id="E-Japanese"><text class="n" x="148" y="667">Japanese</text></g>
</g>

<!-- PANEL F -->
<g id="panel-F" transform="translate(500,667)">
<text class="big" x="12" y="63">F</text>
<g id="F-connectors">
<path class="s" d="M98,15L98,48"/>
<path class="s" d="M98,48L122,80"/>
<path class="s" d="M122,80L122,113"/>
<path class="s" d="M122,80L208,113"/>
<path class="s" d="M208,113L235,146"/>
<path class="s" d="M122,113L132,157"/>
<path class="s" d="M90,152C74,160 62,180 61,209"/>
<path class="s" d="M132,157C114,164 100,180 94,197"/>
<path class="s" d="M155,205L155,261"/>
<path class="s" d="M61,209C58,226 46,238 36,250"/>
<path class="s" d="M155,261L139,308"/>
<path class="s" d="M155,261L162,308"/>
<path class="s" d="M121,339L103,376"/>
<path class="s" d="M162,308L142,343"/>
<path class="s" d="M162,308L176,343"/>
<path class="s" d="M142,343C129,352 122,365 122,385"/>
<path class="s" d="M142,343L135,385"/>
<path class="s" d="M176,343L158,385"/>
<path class="s" d="M176,343L177,385"/>
<path class="s" d="M65,428L65,461"/>
<path class="s" d="M135,385C134,400 118,410 116,430"/>
<path class="s" d="M116,430L97,471"/>
<path class="s" d="M116,430L121,461"/>
<path class="s" d="M153,428L153,471"/>
<path class="s" d="M182,428L182,461"/>
<path class="s" d="M97,471C91,485 89,500 89,515"/>
<path class="s" d="M153,471L176,515"/>
<path class="s" d="M124,522L124,568"/>
<path class="s" d="M124,568C115,574 109,585 109,600"/>
<path class="s" d="M144,607L144,652"/>
<path class="d" d="M98,48L90,152"/>
<path class="d" d="M122,113L90,152"/>
<path class="d" d="M208,113L155,205"/>
<path class="d" d="M132,157L155,205"/>
<path class="d" d="M132,157C124,168 119,180 119,200L121,339"/>
<path class="d" d="M132,157C180,165 196,185 196,222L196,395C196,413 188,421 182,428"/>
<path class="d" d="M61,209L65,428"/>
<path class="d" d="M139,308L121,339"/>
<path class="d" d="M122,385C115,405 96,416 65,428"/>
<path class="d" d="M135,385C136,405 145,418 153,428"/>
<path class="d" d="M158,385L153,428"/>
<path class="d" d="M177,385C177,405 180,418 182,428"/>
<path class="d" d="M97,471L124,522"/>
<path class="d" d="M153,471C140,485 128,500 124,522"/>
<path class="d" d="M153,471L144,607"/>
<path class="d" d="M124,568L144,607"/>
<text class="e" x="98" y="33.5">264</text>
<text class="e" x="121" y="65.5">92</text>
<text class="p" x="93" y="100.5">21%</text>
<text class="e" x="123" y="100.5">138</text>
<text class="e" x="173" y="99.5">205</text>
<text class="e" x="227" y="132.5">14</text>
<text class="p" x="110" y="132.5">79%</text>
<text class="e" x="127" y="132.5">4</text>
<text class="p" x="190" y="158.5">92%</text>
<text class="e" x="67" y="184.5">140</text>
<text class="e" x="103" y="184.5">146</text>
<text class="p" x="143" y="184.5">8%</text>
<text class="e" x="45" y="237.5">106</text>
<text class="e" x="155" y="237.5">181</text>
<text class="p" x="118" y="264.5">1%</text>
<text class="e" x="146" y="290.5">211</text>
<text class="e" x="158" y="290.5">14</text>
<text class="p" x="193" y="310.5">2%</text>
<text class="p" x="62" y="329.5">3%</text>
<text class="p" x="128" y="329.5">99%</text>
<text class="e" x="152" y="329.5">7</text>
<text class="e" x="170" y="329.5">141</text>
<text class="e" x="111" y="362.5">216</text>
<text class="e" x="128" y="362.5">52</text>
<text class="e" x="137" y="362.5">0</text>
<text class="e" x="170" y="362.5">0</text>
<text class="e" x="175" y="362.5">137</text>
<text class="p" x="99" y="415.5">97%</text>
<text class="e" x="118" y="415.5">5</text>
<text class="p" x="138" y="415.5">97%</text>
<text class="p" x="153" y="415.5">3%</text>
<text class="p" x="176" y="415.5">98%</text>
<text class="e" x="65" y="448.5">55</text>
<text class="e" x="110" y="448.5">0</text>
<text class="e" x="117" y="448.5">368</text>
<text class="e" x="152" y="448.5">42</text>
<text class="e" x="180" y="448.5">143</text>
<text class="e" x="89" y="501.5">81</text>
<text class="p" x="107" y="501.5">32%</text>
<text class="p" x="131" y="501.5">68%</text>
<text class="e" x="168" y="501.5">21</text>
<text class="e" x="123" y="553.5">36</text>
<text class="p" x="147" y="553.5">70%</text>
<text class="e" x="110" y="587.5">336</text>
<text class="p" x="132" y="587.5">30%</text>
<text class="e" x="144" y="639.5">3</text>
</g>
<g id="F-root"><circle class="pt" cx="98" cy="15" r="1.3"/></g>
<g id="F-n1"><circle class="pt" cx="98" cy="48" r="1.3"/></g>
<g id="F-n2"><circle class="pt" cx="122" cy="80" r="1.3"/></g>
<g id="F-n3"><circle class="pt" cx="122" cy="113" r="1.3"/></g>
<g id="F-n4"><circle class="pt" cx="208" cy="113" r="1.3"/></g>
<g id="F-adm1"><circle class="pt" cx="90" cy="152" r="1.3"/></g>
<g id="F-n5"><circle class="pt" cx="132" cy="157" r="1.3"/></g>
<g id="F-adm2"><circle class="pt" cx="155" cy="205" r="1.3"/></g>
<g id="F-n7"><circle class="pt" cx="61" cy="209" r="1.3"/></g>
<g id="F-n8"><circle class="pt" cx="155" cy="261" r="1.3"/></g>
<g id="F-n9"><circle class="pt" cx="139" cy="308" r="1.3"/></g>
<g id="F-n10"><circle class="pt" cx="162" cy="308" r="1.3"/></g>
<g id="F-adm3"><circle class="pt" cx="121" cy="339" r="1.3"/></g>
<g id="F-n11"><circle class="pt" cx="142" cy="343" r="1.3"/></g>
<g id="F-n12"><circle class="pt" cx="176" cy="343" r="1.3"/></g>
<g id="F-n13"><circle class="pt" cx="122" cy="385" r="1.3"/></g>
<g id="F-n14"><circle class="pt" cx="135" cy="385" r="1.3"/></g>
<g id="F-n15"><circle class="pt" cx="158" cy="385" r="1.3"/></g>
<g id="F-n16"><circle class="pt" cx="177" cy="385" r="1.3"/></g>
<g id="F-adm4"><circle class="pt" cx="65" cy="428" r="1.3"/></g>
<g id="F-n17"><circle class="pt" cx="116" cy="430" r="1.3"/></g>
<g id="F-adm5"><circle class="pt" cx="153" cy="428" r="1.3"/></g>
<g id="F-adm6"><circle class="pt" cx="182" cy="428" r="1.3"/></g>
<g id="F-n20"><circle class="pt" cx="97" cy="471" r="1.3"/></g>
<g id="F-n21"><circle class="pt" cx="153" cy="471" r="1.3"/></g>
<g id="F-adm7"><circle class="pt" cx="124" cy="522" r="1.3"/></g>
<g id="F-n24"><circle class="pt" cx="124" cy="568" r="1.3"/></g>
<g id="F-adm8"><circle class="pt" cx="144" cy="607" r="1.3"/></g>
<g id="F-Mbuti"><text class="n" x="245" y="158">Mbuti</text></g>
<g id="F-AltaiNea"><text class="n" x="93" y="212">AltaiNea</text></g>
<g id="F-Denisova"><text class="n" x="30" y="265">Denisova</text></g>
<g id="F-Kostenki"><text class="n" x="96" y="389">Kostenki</text></g>
<g id="F-Papuan"><text class="n" x="65" y="475">Papuan</text></g>
<g id="F-Ma911"><text class="n" x="123" y="475">“Ma911”</text></g>
<g id="F-Tianyuan"><text class="n" x="181" y="475">Tianyuan</text></g>
<g id="F-Onge"><text class="n" x="89" y="528">Onge</text></g>
<g id="F-Ami"><text class="n" x="183" y="528">Ami</text></g>
<g id="F-Jomon"><text class="n" x="111" y="614">Jomon</text></g>
<g id="F-Japanese"><text class="n" x="144" y="667">Japanese</text></g>
</g>
</g>
</svg>
